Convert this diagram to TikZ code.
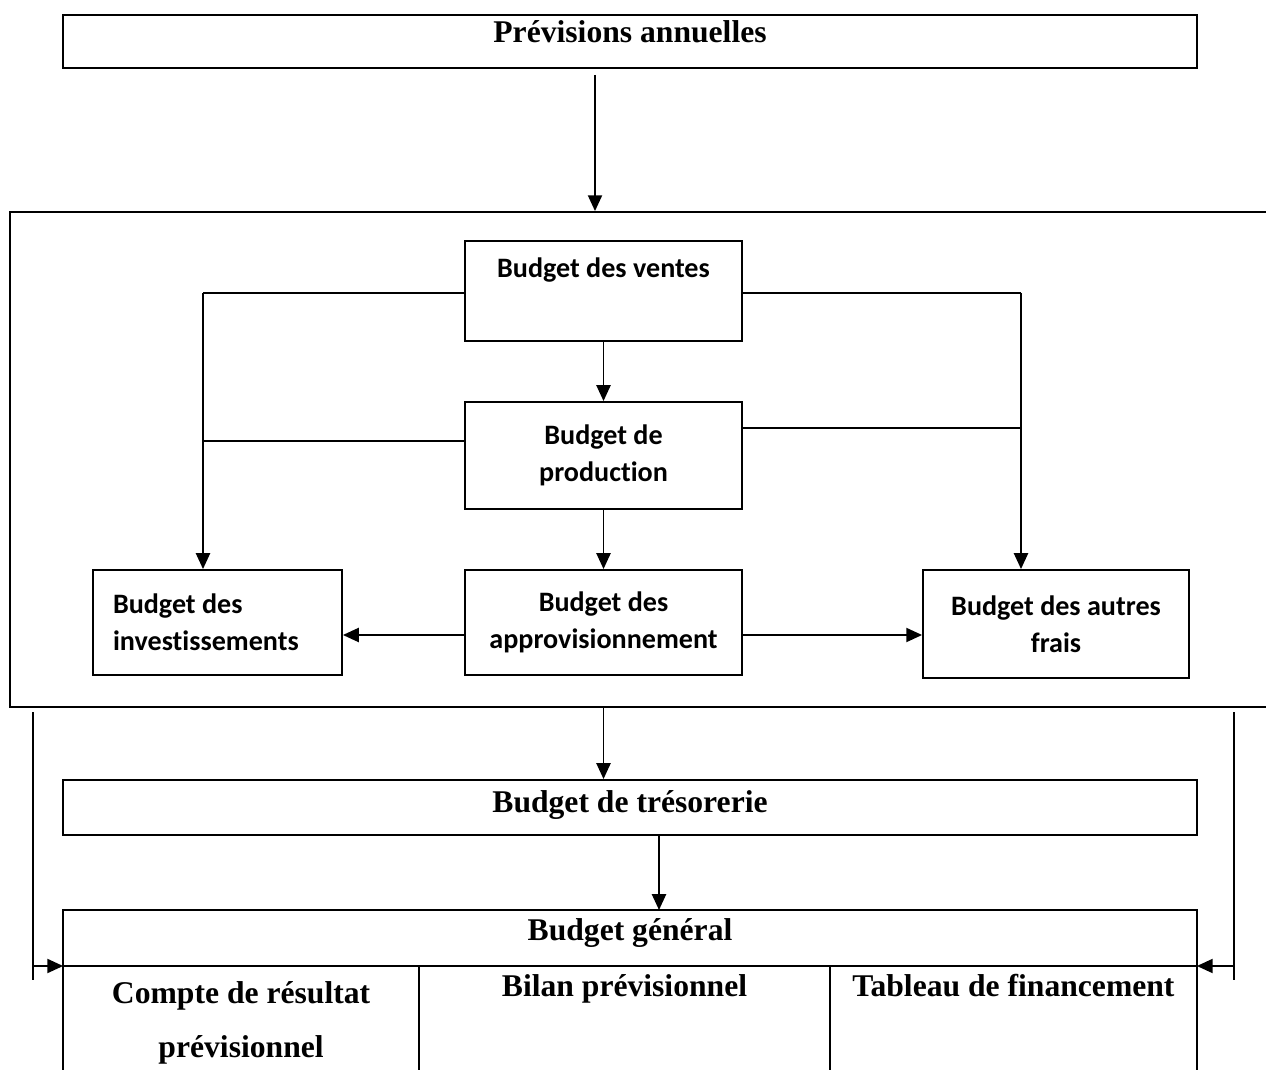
\documentclass[tikz,border=0pt]{standalone}
\usepackage{fontspec}
\setmainfont{Liberation Serif}
\newfontfamily\calibri[Ligatures=NoCommon]{Carlito}
\usetikzlibrary{arrows.meta}

\tikzset{
  trait/.style={line width=1.1pt},
  fleche/.style={trait,-{Triangle[length=9pt,width=8pt]}},
  bandeau/.style={draw,trait,minimum width=22.68cm,inner ysep=0pt,font=\bfseries\fontsize{18}{21}\selectfont},
  budget/.style={draw,trait,minimum width=5.54cm,minimum height=2.1cm,align=center,font=\calibri\bfseries\fontsize{16}{21}\selectfont},
  cellule/.style={draw,trait,outer sep=0pt,anchor=north west,inner ysep=0pt,align=center,font=\bfseries\fontsize{18}{30.5}\selectfont}
}

\begin{document}
\begin{tikzpicture}[x=0.02cm,y=-0.02cm]
\useasboundingbox (0,0) rectangle (1266,1070);
\clip (0,0) rectangle (1266,1070);

\node[bandeau,text height=0.56cm,text depth=0.5cm] (prev) at (630,41.5) {Prévisions annuelles};

\node[draw,trait,minimum width=25.6cm,minimum height=9.9cm] (zone) at (650,459.5) {};

\node[budget,minimum height=0cm,inner ysep=0pt,text height=0.74cm,text depth=1.26cm] (ventes) at (603.5,291) {Budget des ventes};
\node[budget,minimum height=2.14cm] (prod) at (603.5,455.5) {Budget de\\production};
\node[budget,minimum width=4.98cm,inner xsep=0.4cm,text width=4.18cm,align=flush left] (invest) at (217.5,622.5) {Budget des\\investissements};
\node[budget] (approv) at (603.5,622.5) {Budget des\\approvisionnement};
\node[budget,minimum width=5.32cm,minimum height=2.16cm] (autres) at (1056,624) {Budget des autres\\frais};

\node[bandeau,text height=0.64cm,text depth=0.46cm] (treso) at (630,807.5) {Budget de trésorerie};
\node[bandeau,outer sep=0pt,text height=0.6cm,text depth=0.52cm] (gen) at (630,938) {Budget général};

\node[cellule,minimum width=7.12cm,minimum height=2.28cm] (compte) at (gen.south west) {Compte de résultat\\prévisionnel};
\node[cellule,minimum width=8.22cm,text height=0.62cm,text depth=1.66cm] (bilan) at (compte.north east) {Bilan prévisionnel};
\node[cellule,minimum width=7.34cm,text height=0.62cm,text depth=1.66cm] (tableau) at (bilan.north east) {Tableau de financement};

\coordinate (h) at (595,75);
\coordinate (gh) at (203,293);
\coordinate (gm) at (203,441);
\coordinate (dh) at (1021,293);
\coordinate (dm) at (1021,428);
\coordinate (yfl) at (0,635);
\coordinate (tg) at (659,0);
\coordinate (cg1) at (33,712);
\coordinate (cg2) at (33,980);
\coordinate (cd1) at (1234,712);
\coordinate (cd2) at (1234,980);

\draw[fleche] (h) -- (h |- zone.north);
\draw[fleche] (ventes) -- (prod);
\draw[fleche] (prod) -- (approv);
\draw[trait] (ventes.west |- gh) -- (gh);
\draw[trait] (prod.west |- gm) -- (gm);
\draw[fleche] (gh) -- (gh |- invest.north);
\draw[trait] (ventes.east |- dh) -- (dh);
\draw[trait] (prod.east |- dm) -- (dm);
\draw[fleche] (dh) -- (dh |- autres.north);
\draw[fleche] (approv.west |- yfl) -- (invest.east |- yfl);
\draw[fleche] (approv.east |- yfl) -- (autres.west |- yfl);
\draw[fleche] (approv |- zone.south) -- (approv |- treso.north);
\draw[fleche] (tg |- treso.south) -- (tg |- gen.north);
\draw[trait] (cg1) -- (cg2);
\draw[trait] (cd1) -- (cd2);
\draw[fleche] (cg1 |- gen.south) -- (gen.south west);
\draw[fleche] (cd1 |- gen.south) -- (gen.south east);

\end{tikzpicture}
\end{document}
